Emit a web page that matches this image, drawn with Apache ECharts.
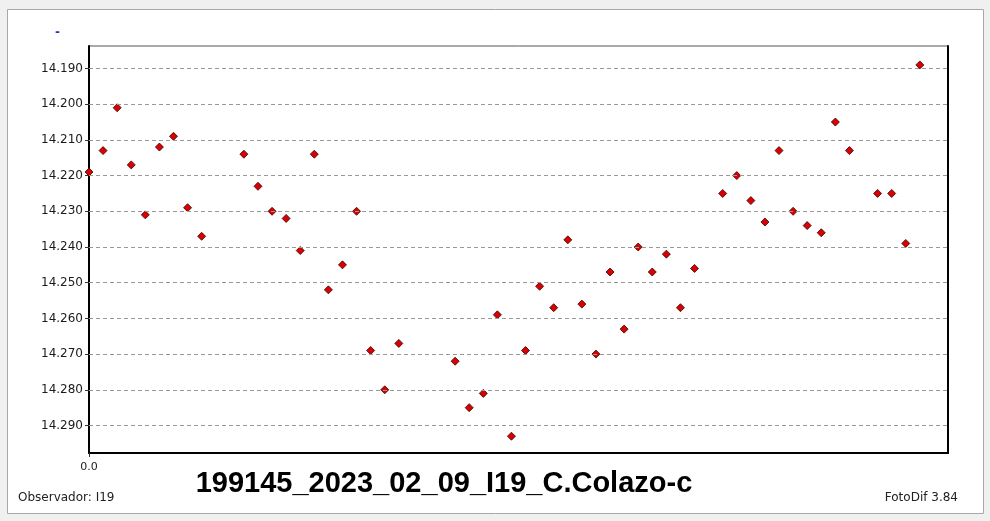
<!DOCTYPE html>
<html><head><meta charset="utf-8">
<script src="https://cdn.jsdelivr.net/npm/echarts@6/dist/echarts.min.js"></script>
<style>html,body{margin:0;padding:0;background:#f0f0f0}#c{width:990px;height:521px}</style>
</head><body><div id="c"></div>
<script>
const obsIndex = [0,1,2,3,4,5,6,7,8,
  11,12,13,14,15,16,17,18,19,20,21,22,
  26,27,28,29,30,31,32,33,34,35,36,37,38,39,40,41,42,43,
  45,46,47,48,49,50,51,52,53,54,
  56,57,58,59];
const magnitudes = [14.219,14.213,14.201,14.217,14.231,14.212,14.209,14.229,14.237,
  14.214,14.223,14.230,14.232,14.241,14.214,14.252,14.245,14.230,14.269,14.280,14.267,
  14.272,14.285,14.281,14.259,14.293,14.269,14.251,14.257,14.238,14.256,14.270,14.247,14.263,14.240,14.247,14.242,14.257,14.246,
  14.225,14.220,14.227,14.233,14.213,14.230,14.234,14.236,14.205,14.213,
  14.225,14.225,14.239,14.189];
const yTicks = [14.19,14.20,14.21,14.22,14.23,14.24,14.25,14.26,14.27,14.28,14.29];
const xTicks = [0];
const titleText = '199145_2023_02_09_I19_C.Colazo-c';
const observerText = 'Observador: I19';
const softwareText = 'FotoDif 3.84';

const chart = echarts.init(document.getElementById('c'), null, {renderer:'canvas'});
const yMin = 14.1837, yMax = 14.2977;
chart.setOption({
  backgroundColor:'#f0f0f0',
  animation:false,
  graphic:[
    {type:'rect', z:-10, shape:{x:7.5,y:9.5,width:976,height:504}, style:{fill:'#ffffff', stroke:'#a8a8a8', lineWidth:1}},
    {type:'text', left:55, top:27, style:{text:'-', fill:'#1a3cc8', font:'bold 12px "DejaVu Sans"'}},
    {type:'text', x:444, y:484, style:{text:titleText, fill:'#000', font:'bold 29px "Liberation Sans"', textAlign:'center', textVerticalAlign:'middle'}},
    {type:'text', x:18, y:498, style:{text:observerText, fill:'#222', font:'12px "DejaVu Sans"', textAlign:'left', textVerticalAlign:'middle'}},
    {type:'text', x:958, y:498, style:{text:softwareText, fill:'#222', font:'12px "DejaVu Sans"', textAlign:'right', textVerticalAlign:'middle'}}
  ],
  grid:{left:89, top:46, right:42, bottom:68, show:true, backgroundColor:'#fff', borderColor:'#555', borderWidth:1},
  xAxis:{type:'value', min:0, max:61,
    axisLine:{show:true, onZero:false, lineStyle:{color:'#000', width:2}},
    axisTick:{show:true, customValues:xTicks, length:4, lineStyle:{color:'#333'}},
    axisLabel:{show:true, customValues:xTicks, formatter:v=>v.toFixed(1), color:'#1a1a1a', fontSize:11, fontFamily:'DejaVu Sans', margin:9},
    splitLine:{show:false}},
  yAxis:[{type:'value', inverse:true, min:yMin, max:yMax,
    axisLine:{show:true, onZero:false, lineStyle:{color:'#000', width:2}},
    axisTick:{show:true, customValues:yTicks, length:4, lineStyle:{color:'#333'}},
    axisLabel:{show:true, customValues:yTicks, formatter:v=>v.toFixed(3), color:'#1a1a1a', fontSize:12, fontFamily:'DejaVu Sans', margin:6},
    splitLine:{show:false}},
   {type:'value', inverse:true, min:yMin, max:yMax, position:'right',
    axisLine:{show:true, onZero:false, lineStyle:{color:'#000', width:2}},
    axisTick:{show:false}, axisLabel:{show:false}, splitLine:{show:false}}],
  series:[
    {type:'scatter', data:[], silent:true,
     markLine:{silent:true, symbol:['none','none'], label:{show:false},
       lineStyle:{color:'#999', type:[4,3], width:1},
       data:yTicks.map(v=>({yAxis:v}))}},
    {type:'scatter', data:obsIndex.map((x,i)=>[x, magnitudes[i]]),
     symbol:'diamond', symbolSize:8,
     itemStyle:{color:'#d80000', opacity:1, borderColor:'#3a0000', borderWidth:0.8}}
  ]
});
</script></body></html>
